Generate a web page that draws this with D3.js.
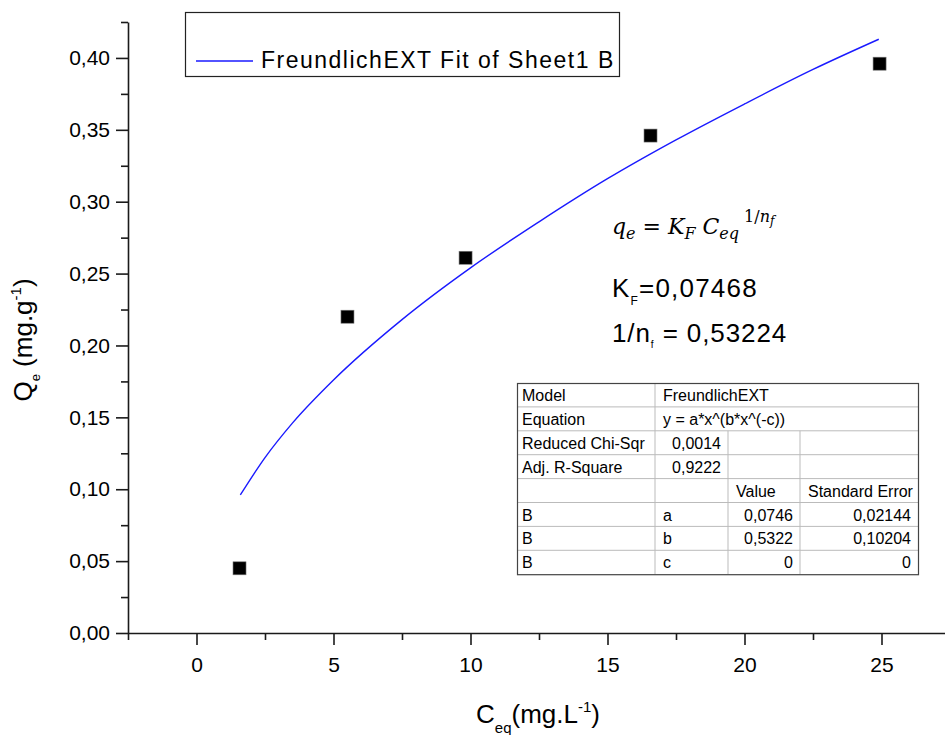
<!DOCTYPE html>
<html>
<head>
<meta charset="utf-8">
<script src="https://cdn.jsdelivr.net/npm/d3@7"></script>
<style>
  body { margin: 0; background: #fff; }
  text { font-family: "Liberation Sans", Arial, sans-serif; fill: #000; }
  .axis path, .axis line { stroke: #1a1a1a; stroke-width: 1.6px; }
  .axis text { font-size: 21px; }
  .formula text, .formula { font-family: "DejaVu Serif", serif; font-style: italic; }
</style>
</head>
<body>
<div id="chart"></div>
<script>
// measured points (Ceq, Qe)
const ceq = [1.57, 5.51, 9.82, 16.57, 24.93];
const qe = [0.045, 0.220, 0.261, 0.346, 0.396];

// fit curve
const fitCeq = [1.6, 2.5, 3.5, 5, 7.5, 10, 12.5, 15, 17.5, 20, 22.5, 24.9];
const fitQe = [0.096, 0.122, 0.146, 0.176, 0.218, 0.254, 0.286, 0.316, 0.343, 0.368, 0.392, 0.413];

const xTicks = [0, 5, 10, 15, 20, 25];
const xMinor = [-2.5, 2.5, 7.5, 12.5, 17.5, 22.5, 27.5];
const yTicks = [0, 0.05, 0.10, 0.15, 0.20, 0.25, 0.30, 0.35, 0.40];
const yMinor = [0.025, 0.075, 0.125, 0.175, 0.225, 0.275, 0.325, 0.375, 0.425];

const legendLabel = 'FreundlichEXT Fit of Sheet1 B';
const kf = '0,07468';
const invN = '0,53224';

// fit report table
const tableRows = [
  ['Model', 'FreundlichEXT'],
  ['Equation', 'y = a*x^(b*x^(-c))'],
  ['Reduced Chi-Sqr', '0,0014', '', ''],
  ['Adj. R-Square', '0,9222', '', ''],
  ['', '', 'Value', 'Standard Error'],
  ['B', 'a', '0,0746', '0,02144'],
  ['B', 'b', '0,5322', '0,10204'],
  ['B', 'c', '0', '0'],
];

const width = 945;
const height = 735;

const svg = d3.select('#chart')
  .append('svg')
  .attr('width', width)
  .attr('height', height);

const x = d3.scaleLinear()
  .domain([-2.5, 27.5])
  .range([128, 950]);

const y = d3.scaleLinear()
  .domain([0, 0.425])
  .range([633, 22]);

const locale = d3.formatLocale({ decimal: ',', thousands: '.', grouping: [3], currency: ['', ''] });
const fmt2 = locale.format('.2f');

// minor ticks first, then major axes on top
svg.append('g')
  .attr('class', 'axis')
  .attr('transform', `translate(0,${y(0)})`)
  .call(d3.axisBottom(x).tickValues(xMinor).tickSize(7).tickSizeOuter(0).tickFormat(''))
  .call(g => g.select('.domain').remove());

svg.append('g')
  .attr('class', 'axis')
  .attr('transform', `translate(${x(-2.5)},0)`)
  .call(d3.axisLeft(y).tickValues(yMinor).tickSize(7).tickSizeOuter(0).tickFormat(''))
  .call(g => g.select('.domain').remove());

svg.append('g')
  .attr('class', 'axis')
  .attr('transform', `translate(0,${y(0)})`)
  .call(d3.axisBottom(x).tickValues(xTicks).tickSize(12).tickSizeOuter(0).tickPadding(12));

svg.append('g')
  .attr('class', 'axis')
  .attr('transform', `translate(${x(-2.5)},0)`)
  .call(d3.axisLeft(y).tickValues(yTicks).tickSize(12).tickSizeOuter(0).tickPadding(6).tickFormat(fmt2));

// axis titles
const xTitle = svg.append('text')
  .attr('x', 538)
  .attr('y', 723)
  .attr('text-anchor', 'middle')
  .style('font-size', '26px');
xTitle.append('tspan').text('C');
xTitle.append('tspan').attr('dy', 10).style('font-size', '15px').text('eq');
xTitle.append('tspan').attr('dy', -10).text('(mg.L');
xTitle.append('tspan').attr('dy', -11).style('font-size', '15px').text('-1');
xTitle.append('tspan').attr('dy', 11).text(')');

const yTitle = svg.append('text')
  .attr('transform', 'translate(32,340) rotate(-90)')
  .attr('text-anchor', 'middle')
  .style('font-size', '26px');
yTitle.append('tspan').text('Q');
yTitle.append('tspan').attr('dy', 8).style('font-size', '13px').text('e');
yTitle.append('tspan').attr('dy', -8).text(' (mg.g');
yTitle.append('tspan').attr('dy', -11).style('font-size', '15px').text('-1');
yTitle.append('tspan').attr('dy', 11).text(')');

// fit line
const fitData = fitCeq.map((c, i) => ({ c, q: fitQe[i] }));
const line = d3.line()
  .x(d => x(d.c))
  .y(d => y(d.q))
  .curve(d3.curveMonotoneX);

svg.append('path')
  .datum(fitData)
  .attr('d', line)
  .attr('fill', 'none')
  .attr('stroke', '#1a1aff')
  .attr('stroke-width', 1.4);

// data squares
const sq = 13;
svg.selectAll('.pt')
  .data(ceq.map((c, i) => ({ c, q: qe[i] })))
  .enter().append('rect')
  .attr('class', 'pt')
  .attr('x', d => x(d.c) - sq / 2)
  .attr('y', d => y(d.q) - sq / 2)
  .attr('width', sq)
  .attr('height', sq)
  .attr('fill', '#000')
  .attr('stroke', '#777')
  .attr('stroke-width', 0.6);

// legend
const legend = svg.append('g');
legend.append('rect')
  .attr('x', 185.5)
  .attr('y', 12.5)
  .attr('width', 434)
  .attr('height', 64)
  .attr('fill', '#fff')
  .attr('stroke', '#222')
  .attr('stroke-width', 1.2);
legend.append('line')
  .attr('x1', 196).attr('x2', 253)
  .attr('y1', 61).attr('y2', 61)
  .attr('stroke', '#1a1aff')
  .attr('stroke-width', 1.4);
legend.append('text')
  .attr('x', 261)
  .attr('y', 68)
  .style('font-size', '23px')
  .style('letter-spacing', '1.5px')
  .text(legendLabel);

// equation
const eq = svg.append('text')
  .attr('class', 'formula')
  .attr('x', 612)
  .attr('y', 234)
  .style('font-size', '22px');
eq.append('tspan').text('q');
eq.append('tspan').attr('dy', 5).style('font-size', '16px').text('e');
eq.append('tspan').attr('dy', -5).style('font-style', 'normal').text(' = ');
eq.append('tspan').text('K');
eq.append('tspan').attr('dy', 5).style('font-size', '16px').text('F');
eq.append('tspan').attr('dy', -5).text(' C');
eq.append('tspan').attr('dy', 5).style('font-size', '16px').text('eq');
eq.append('tspan').attr('dy', -17).attr('dx', 5).style('font-size', '16px').style('font-style', 'normal').text('1/');
eq.append('tspan').style('font-size', '16px').text('n');
eq.append('tspan').attr('dy', 3).style('font-size', '12px').text('f');

const kText = svg.append('text')
  .attr('x', 612)
  .attr('y', 297)
  .style('font-size', '26px')
  .style('letter-spacing', '1.2px');
kText.append('tspan').text('K');
kText.append('tspan').attr('dy', 8).style('font-size', '12px').text('F');
kText.append('tspan').attr('dy', -8).text('=' + kf);

const nText = svg.append('text')
  .attr('x', 612)
  .attr('y', 342)
  .style('font-size', '26px')
  .style('letter-spacing', '0.9px');
nText.append('tspan').text('1/n');
nText.append('tspan').attr('dy', 6).style('font-size', '10px').text('f');
nText.append('tspan').attr('dy', -6).text(' = ' + invN);

// report table
const colX = [517, 655, 728, 800, 918];
const rowTop = 383;
const rowH = 23.9;
const table = svg.append('g').style('font-size', '16px');

table.append('rect')
  .attr('x', colX[0]).attr('y', rowTop)
  .attr('width', colX[4] - colX[0])
  .attr('height', rowH * tableRows.length)
  .attr('fill', '#fff');

tableRows.forEach((row, r) => {
  const top = rowTop + r * rowH;
  if (r > 0) {
    table.append('line')
      .attr('x1', colX[0]).attr('x2', colX[4])
      .attr('y1', top).attr('y2', top)
      .attr('stroke', '#bbb');
  }
  const nCols = row.length;
  // vertical separators
  const seps = nCols === 2 ? [colX[1]] : [colX[1], colX[2], colX[3]];
  seps.forEach(sx => {
    table.append('line')
      .attr('x1', sx).attr('x2', sx)
      .attr('y1', top).attr('y2', top + rowH)
      .attr('stroke', '#bbb');
  });
  row.forEach((cell, c) => {
    if (!cell) return;
    const numeric = /^[0-9,]+$/.test(cell) && r >= 2;
    const right = nCols === 2 ? colX[4] : colX[c + 1];
    table.append('text')
      .attr('x', numeric ? right - 7 : colX[c] + (c === 0 ? 5 : 8))
      .attr('y', top + 18)
      .attr('text-anchor', numeric ? 'end' : 'start')
      .text(cell);
  });
});

table.append('rect')
  .attr('x', colX[0] + 0.5).attr('y', rowTop + 0.5)
  .attr('width', colX[4] - colX[0])
  .attr('height', rowH * tableRows.length)
  .attr('fill', 'none')
  .attr('stroke', '#444')
  .attr('stroke-width', 1.2);
</script>
</body>
</html>
